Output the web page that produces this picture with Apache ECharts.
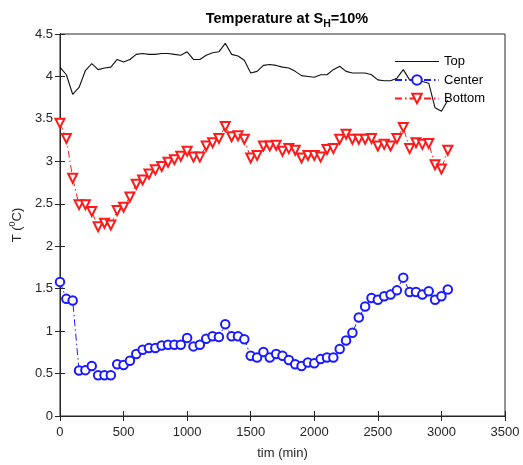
<!DOCTYPE html>
<html>
<head>
<meta charset="utf-8">
<script src="https://cdn.jsdelivr.net/npm/echarts@6/dist/echarts.min.js"></script>
<style>html,body{margin:0;padding:0;background:#fff;}#chart{width:523px;height:465px;}</style>
</head>
<body>
<div id="chart"></div>
<script>
var times = [0,50,100,150,200,250,300,350,400,450,500,550,600,650,700,750,800,850,900,950,1000,1050,1100,1150,1200,1250,1300,1350,1400,1450,1500,1550,1600,1650,1700,1750,1800,1850,1900,1950,2000,2050,2100,2150,2200,2250,2300,2350,2400,2450,2500,2550,2600,2650,2700,2750,2800,2850,2900,2950,3000,3050];
var topValues = [4.11,4.02,3.79,3.87,4.07,4.15,4.08,4.10,4.11,4.20,4.17,4.20,4.26,4.27,4.26,4.26,4.27,4.27,4.26,4.25,4.29,4.20,4.20,4.25,4.28,4.29,4.39,4.26,4.24,4.19,4.04,4.06,4.13,4.14,4.13,4.11,4.10,4.06,4.01,4.00,3.99,4.02,4.02,4.08,4.12,4.06,4.04,4.04,4.04,4.02,3.96,3.95,3.95,3.98,4.08,3.96,3.96,3.94,3.92,3.63,3.59,3.72];
var centerValues = [1.58,1.38,1.36,0.535,0.54,0.59,0.48,0.48,0.48,0.61,0.60,0.65,0.73,0.78,0.80,0.80,0.83,0.84,0.84,0.84,0.92,0.82,0.84,0.91,0.94,0.93,1.08,0.94,0.94,0.905,0.71,0.69,0.755,0.69,0.73,0.71,0.66,0.61,0.59,0.63,0.62,0.67,0.69,0.69,0.79,0.89,0.98,1.16,1.29,1.39,1.37,1.41,1.43,1.48,1.63,1.46,1.46,1.43,1.47,1.37,1.41,1.49];
var bottomValues = [3.45,3.27,2.80,2.49,2.49,2.41,2.23,2.27,2.25,2.42,2.46,2.58,2.73,2.78,2.85,2.90,2.94,2.99,3.02,3.06,3.12,3.05,3.05,3.18,3.22,3.27,3.41,3.29,3.30,3.26,3.04,3.07,3.18,3.18,3.19,3.12,3.15,3.13,3.04,3.07,3.07,3.05,3.14,3.15,3.26,3.32,3.26,3.26,3.26,3.27,3.18,3.20,3.18,3.27,3.40,3.15,3.22,3.20,3.21,2.96,2.91,3.13];
var seriesNames = ['Top','Center','Bottom'];

function pairs(vals){ return times.map(function(t,i){ return [t, vals[i]]; }); }

var axisColor = '#262626';
var font = 'Liberation Sans, Arial, Helvetica, sans-serif';
var chart = echarts.init(document.getElementById('chart'), null, {renderer:'canvas'});
var dashDot = [7,3,1.5,3];
chart.setOption({
  animation:false,
  backgroundColor:'#fff',
  title:{
    text:'{a|Temperature at S}{s|H}{a|=10%}',
    left:282, top:6, textAlign:'center',
    textStyle:{
      rich:{
        a:{fontFamily:font,fontSize:14.5,fontWeight:'bold',color:'#000',verticalAlign:'top',lineHeight:17},
        s:{fontFamily:font,fontSize:10.5,fontWeight:'bold',color:'#000',verticalAlign:'top',lineHeight:17,padding:[8,0,0,0]}
      }
    }
  },
  grid:{left:58,right:18,top:34,bottom:47,show:true,borderColor:axisColor,borderWidth:1,backgroundColor:'transparent'},
  legend:{
    data:[
      {name:seriesNames[0], icon:'path://M0,0 L44,0 L44,1.2 L0,1.2 Z'},
      {name:seriesNames[1]},
      {name:seriesNames[2]}
    ],
    orient:'vertical', left:389, top:50,
    itemWidth:44, itemHeight:12, itemGap:5.5,
    textStyle:{fontFamily:font,fontSize:13,color:'#000'}
  },
  xAxis:[{
    type:'value', min:0, max:3500, interval:500,
    name:'tim (min)', nameLocation:'middle', nameGap:31,
    nameTextStyle:{fontFamily:font,fontSize:13,color:axisColor},
    axisLine:{show:true,lineStyle:{color:axisColor,width:1}},
    axisTick:{show:true,inside:true,length:5,lineStyle:{color:axisColor}},
    axisLabel:{fontFamily:font,fontSize:13,color:axisColor,margin:10,formatter:function(v){return String(v);}},
    splitLine:{show:false}
  },{
    type:'value', min:0, max:3500, interval:500, position:'top',
    axisLine:{show:true,lineStyle:{color:axisColor,width:1}},
    axisTick:{show:true,inside:true,length:5,lineStyle:{color:axisColor}},
    axisLabel:{show:false}, splitLine:{show:false}
  }],
  yAxis:[{
    type:'value', min:0, max:4.5, interval:0.5,
    name:'{a|T (}{p|0}{a|C)}', nameLocation:'middle', nameGap:34, nameRotate:90,
    nameTextStyle:{rich:{
      a:{fontFamily:font,fontSize:13,color:axisColor,verticalAlign:'bottom',lineHeight:16},
      p:{fontFamily:font,fontSize:9,color:axisColor,verticalAlign:'top',lineHeight:16,padding:[0,0,6,0]}
    }},
    axisLine:{show:true,lineStyle:{color:axisColor,width:1}},
    axisTick:{show:true,inside:true,length:5,lineStyle:{color:axisColor}},
    axisLabel:{fontFamily:font,fontSize:13,color:axisColor,margin:7,formatter:function(v){return String(v);}},
    splitLine:{show:false}
  },{
    type:'value', min:0, max:4.5, interval:0.5, position:'right',
    axisLine:{show:true,lineStyle:{color:axisColor,width:1}},
    axisTick:{show:true,inside:true,length:5,lineStyle:{color:axisColor}},
    axisLabel:{show:false}, splitLine:{show:false}
  }],
  series:[{
    name:seriesNames[0], type:'line', data:pairs(topValues),
    showSymbol:false, symbol:'none',
    lineStyle:{color:'#111',width:1.1},
    itemStyle:{color:'#111'}
  },{
    name:seriesNames[1], type:'line', data:pairs(centerValues),
    symbol:'emptyCircle', symbolSize:8.5,
    lineStyle:{color:'#1a1aff',width:1,type:dashDot},
    itemStyle:{color:'#1a1aff',borderWidth:0.9}
  },{
    name:seriesNames[2], type:'line', data:pairs(bottomValues),
    symbol:'emptyTriangle', symbolSize:9, symbolRotate:180,
    lineStyle:{color:'#ff1a1a',width:1,type:dashDot},
    itemStyle:{color:'#ff1a1a',borderWidth:0.9}
  }]
});
</script>
</body>
</html>
